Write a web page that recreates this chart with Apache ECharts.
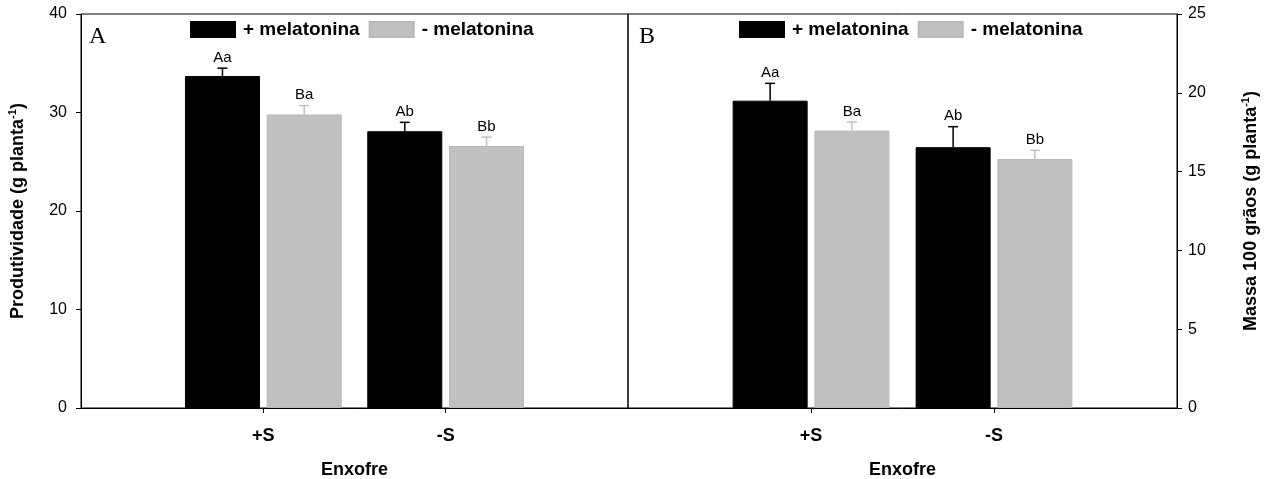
<!DOCTYPE html>
<html>
<head>
<meta charset="utf-8">
<script src="https://cdn.jsdelivr.net/npm/echarts@6/dist/echarts.min.js"></script>
<style>
  html, body { margin: 0; padding: 0; background: #fff; }
  #chart { width: 1272px; height: 479px; }
</style>
</head>
<body>
<div id="chart"></div>
<script>
// dados
var categories = ['+S', '-S'];
var seriesNames = ['+ melatonina', '- melatonina'];

// A: produtividade (g planta-1)
var prodCom = [33.7, 28.1];
var prodSem = [29.8, 26.6];
var prodComErr = [0.8, 0.9];
var prodSemErr = [0.9, 0.9];
var prodComLetras = ['Aa', 'Ab'];
var prodSemLetras = ['Ba', 'Bb'];
var prodTicks = [0, 10, 20, 30, 40];

// B: massa 100 graos (g planta-1)
var massaCom = [19.5, 16.55];
var massaSem = [17.6, 15.8];
var massaComErr = [1.1, 1.3];
var massaSemErr = [0.55, 0.55];
var massaComLetras = ['Aa', 'Ab'];
var massaSemLetras = ['Ba', 'Bb'];
var massaTicks = [0, 5, 10, 15, 20, 25];

var FONT = '"Liberation Sans", Arial, sans-serif';
var BLACK = '#000000';
var GRAY = '#c0c0c0';
var BAR_W = 75;
var BAR_GAP = 0.09;
var SHIFT = (BAR_W + BAR_W * BAR_GAP) / 2;

// categoria vazia nas pontas: eixo de 0 a 3, +S em 1 e -S em 2
var xCats = [''].concat(categories, ['']);
function pad(arr) {
  return [null].concat(arr, [null]);
}

function xAxisFor(idx) {
  return {
    type: 'category',
    gridIndex: idx,
    data: xCats,
    boundaryGap: false,
    name: 'Enxofre',
    nameLocation: 'middle',
    nameGap: 53,
    nameTextStyle: { fontFamily: FONT, fontSize: 18, fontWeight: 'bold', color: '#000' },
    axisLine: { show: true, lineStyle: { color: '#000', width: 1 } },
    axisTick: {
      show: true, length: 5, inside: false,
      interval: function (i) { return i === 1 || i === 2; },
      lineStyle: { color: '#000' }
    },
    axisLabel: {
      interval: 0, margin: 19,
      fontFamily: FONT, fontSize: 18, fontWeight: 'bold', color: '#000'
    },
    splitLine: { show: false }
  };
}

function yAxisFor(idx, ticks, pos, nameTxt, gap) {
  return {
    type: 'value',
    gridIndex: idx,
    position: pos,
    min: ticks[0],
    max: ticks[ticks.length - 1],
    interval: ticks[1] - ticks[0],
    name: '{b|' + nameTxt + '}{s|-1}{b|)}',
    nameLocation: 'middle',
    nameRotate: 90,
    nameGap: gap,
    nameTextStyle: {
      rich: {
        b: { fontFamily: FONT, fontSize: 18, fontWeight: 'bold', color: '#000', lineHeight: 22 },
        s: { fontFamily: FONT, fontSize: 11, fontWeight: 'bold', color: '#000', lineHeight: 22, verticalAlign: 'top' }
      }
    },
    axisLine: { show: true, lineStyle: { color: '#000', width: 1 } },
    axisTick: { show: true, length: 5, inside: false, lineStyle: { color: '#000' } },
    axisLabel: { margin: pos === 'left' ? 14 : 11, fontFamily: FONT, fontSize: 16, color: '#000' },
    splitLine: { show: false }
  };
}

function barSeries(idx, name, vals, color) {
  return {
    name: name,
    type: 'bar',
    xAxisIndex: idx,
    yAxisIndex: idx,
    data: pad(vals),
    barWidth: BAR_W,
    barGap: (BAR_GAP * 100) + '%',
    itemStyle: { color: color, borderColor: color === BLACK ? '#000' : '#b8b8b8', borderWidth: 1 },
    emphasis: { disabled: true },
    z: 2
  };
}

// barras de erro (só para cima) e letras
function errSeries(idx, vals, errs, letras, color, side) {
  return {
    type: 'custom',
    xAxisIndex: idx,
    yAxisIndex: idx,
    silent: true,
    z: 5,
    data: vals.map(function (v, i) { return [i + 1, v, errs[i]]; }),
    encode: { x: 0, y: 1 },
    renderItem: function (params, api) {
      var base = api.coord([api.value(0), api.value(1)]);
      var top = api.coord([api.value(0), api.value(1) + api.value(2)]);
      var x = base[0] + side * SHIFT;
      var lw = 1.5;
      return {
        type: 'group',
        children: [
          { type: 'line', shape: { x1: x, y1: base[1], x2: x, y2: top[1] }, style: { stroke: color, lineWidth: lw } },
          { type: 'line', shape: { x1: x - 5, y1: top[1], x2: x + 5, y2: top[1] }, style: { stroke: color, lineWidth: lw } },
          {
            type: 'text', x: x, y: top[1] - 3,
            style: {
              text: letras[params.dataIndex], fill: '#000',
              font: '15px ' + FONT, textAlign: 'center', textVerticalAlign: 'bottom'
            }
          }
        ]
      };
    }
  };
}

function legendFor(left) {
  return {
    left: left,
    top: 15,
    orient: 'horizontal',
    icon: 'rect',
    itemWidth: 44,
    itemHeight: 15,
    itemGap: 9,
    selectedMode: false,
    data: seriesNames,
    textStyle: { fontFamily: FONT, fontSize: 19, fontWeight: 'bold', color: '#000', padding: [0, 0, 0, 3] }
  };
}

var option = {
  animation: false,
  backgroundColor: '#fff',
  grid: [
    { left: 81, top: 14, width: 547, height: 394, outerBoundsMode: 'none', show: true, borderColor: '#000', borderWidth: 1, backgroundColor: 'transparent' },
    { left: 628, top: 14, width: 549, height: 394, outerBoundsMode: 'none', show: true, borderColor: '#000', borderWidth: 1, backgroundColor: 'transparent' }
  ],
  legend: [legendFor(185), legendFor(734)],
  xAxis: [xAxisFor(0), xAxisFor(1)],
  yAxis: [
    yAxisFor(0, prodTicks, 'left', 'Produtividade (g planta', 52),
    yAxisFor(1, massaTicks, 'right', 'Massa 100 grãos (g planta', 63)
  ],
  graphic: [
    { type: 'text', left: 89, top: 25, style: { text: 'A', font: '24px "Liberation Serif", "Times New Roman", serif', fill: '#000' } },
    { type: 'text', left: 639, top: 25, style: { text: 'B', font: '24px "Liberation Serif", "Times New Roman", serif', fill: '#000' } }
  ],
  series: [
    barSeries(0, seriesNames[0], prodCom, BLACK),
    barSeries(0, seriesNames[1], prodSem, GRAY),
    barSeries(1, seriesNames[0], massaCom, BLACK),
    barSeries(1, seriesNames[1], massaSem, GRAY),
    errSeries(0, prodCom, prodComErr, prodComLetras, BLACK, -1),
    errSeries(0, prodSem, prodSemErr, prodSemLetras, GRAY, 1),
    errSeries(1, massaCom, massaComErr, massaComLetras, BLACK, -1),
    errSeries(1, massaSem, massaSemErr, massaSemLetras, GRAY, 1)
  ]
};

var chart = echarts.init(document.getElementById('chart'), null, { renderer: 'canvas' });
chart.setOption(option);
</script>
</body>
</html>
